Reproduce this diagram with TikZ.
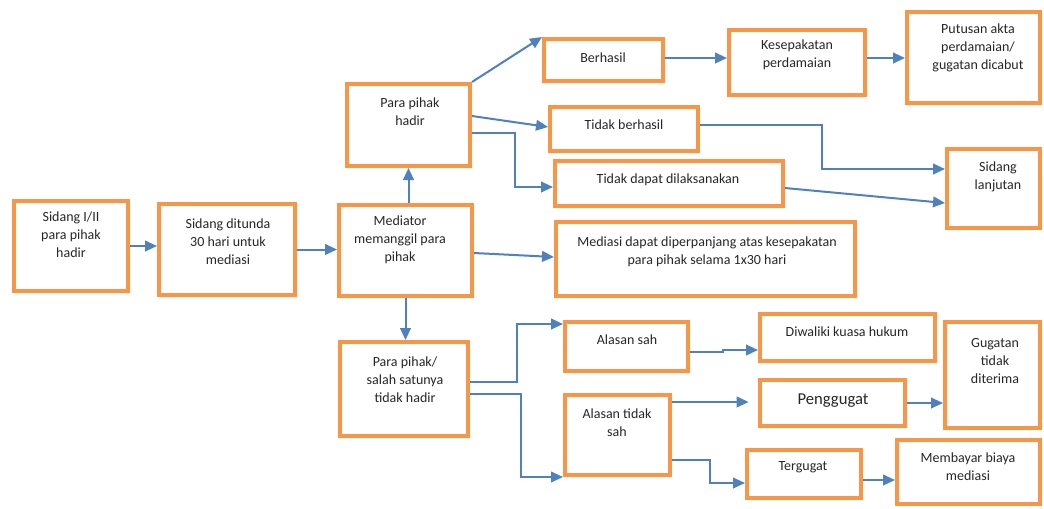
\documentclass[tikz,border=0pt]{standalone}
\usepackage{fontspec}
\setmainfont{Carlito}
\usetikzlibrary{arrows.meta,positioning,calc,fit}
\definecolor{boxorange}{HTML}{F79646}
\definecolor{arrowblue}{HTML}{4F81BD}

\begin{document}
\begin{tikzpicture}[x=0.75pt, y=-0.75pt,
    box/.style={draw=boxorange, line width=3pt, inner sep=0pt},
    lbl/.style={align=center, inner sep=0pt, text=black!85,
        font=\fontsize{10.5}{13.5}\selectfont},
    flow/.style={draw=arrowblue, line width=1.5pt,
        -{Triangle[length=9pt,width=8pt]}}]
    \useasboundingbox (0,0) rectangle (1044,508);

    % left column
    \node[box, fit={(14,201) (128,291)}] (sidang) {};
    \node[lbl] (sidang-t) at (71,235) {Sidang I/II\\para pihak\\hadir};
    \node[box, fit={(159,204) (295,295)}] (tunda) {};
    \node[lbl] (tunda-t) at (228,242) {Sidang ditunda\\30 hari untuk\\mediasi};
    \node[box, fit={(339,205) (472,296)}] (mediator) {};
    \node[lbl] (mediator-t) at (400,240) {Mediator\\memanggil para\\pihak};

    % parties present
    \node[box, fit={(347,84) (470,166)}] (hadir) {};
    \node[lbl] (hadir-t) at (410,112) {Para pihak\\hadir};
    \node[box, fit={(544,39) (663,81)}] (berhasil) {};
    \node[lbl] (berhasil-t) at (603,58) {Berhasil};
    \node[box, fit={(550,107) (698,151)}] (tdkberhasil) {};
    \node[lbl] (tdkberhasil-t) at (624,125) {Tidak berhasil};
    \node[box, fit={(555,161) (783,206)}] (tdkdapat) {};
    \node[lbl] (tdkdapat-t) at (668,180) {Tidak dapat dilaksanakan};
    \node[box, fit={(729,30) (865,95)}] (sepakat) {};
    \node[lbl] (sepakat-t) at (797,55) {Kesepakatan\\perdamaian};
    \node[box, fit={(907,12) (1040,103)}] (putusan) {};
    \node[lbl] (putusan-t) at (978,48) {Putusan akta\\perdamaian/\\gugatan dicabut};
    \node[box, fit={(947,149) (1040,228)}] (lanjutan) {};
    \node[lbl] (lanjutan-t) at (998,177) {Sidang\\lanjutan};

    % extension
    \node[box, fit={(556,222) (855,296)}] (perpanjang) {};
    \node[lbl] (perpanjang-t) at (707,251.5) {Mediasi dapat diperpanjang atas kesepakatan\\para pihak selama 1x30 hari};

    % parties absent
    \node[box, fit={(340,342) (468,436)}] (tdkhadir) {};
    \node[lbl] (tdkhadir-t) at (405,380) {Para pihak/\\salah satunya\\tidak hadir};
    \node[box, fit={(565,322) (688,371)}] (sah) {};
    \node[lbl] (sah-t) at (627,340) {Alasan sah};
    \node[box, fit={(565,395) (670,475)}] (tdksah) {};
    \node[lbl] (tdksah-t) at (617,423) {Alasan tidak\\sah};
    \node[box, fit={(760,314) (935,361)}] (kuasa) {};
    \node[lbl] (kuasa-t) at (847,332) {Diwaliki kuasa hukum};
    \node[box, fit={(760,380) (905,426)}] (penggugat) {};
    \node[lbl, font=\fontsize{12.5}{15}\selectfont] (penggugat-t) at (833,401) {Penggugat};
    \node[box, fit={(945,322) (1040,428)}] (tdkterima) {};
    \node[lbl] (tdkterima-t) at (995,361) {Gugatan\\tidak\\diterima};
    \node[box, fit={(747,450) (861,498)}] (tergugat) {};
    \node[lbl] (tergugat-t) at (803,467) {Tergugat};
    \node[box, fit={(897,440) (1040,504)}] (biaya) {};
    \node[lbl] (biaya-t) at (968,467) {Membayar biaya\\mediasi};

    % Arrows
    \draw[flow] (sidang.east) -- (sidang.east -| tunda.west);
    \draw[flow] (tunda.east) -- (tunda.east -| mediator.west);
    \draw[flow] (mediator.north -| hadir) -- (hadir.south);
    \draw[flow] (mediator.south) -- (mediator.south |- tdkhadir.north);
    \draw[flow] (mediator.east |- 0,253) -- (perpanjang.west |- 0,257);

    % from para pihak hadir
    \draw[flow] (hadir.north east) -- (berhasil.north west);
    \draw[flow] (hadir.east |- 0,116) -- (tdkberhasil.west |- 0,127);
    \draw[flow] (hadir.east |- 0,133) -- ++(43,0) |- (tdkdapat.west |- 0,187);
    \draw[flow] (berhasil.east |- 0,58) -- (sepakat.west |- 0,58);
    \draw[flow] (sepakat.east |- 0,58) -- (putusan.west |- 0,58);
    \draw[flow] (tdkberhasil.east |- 0,125) -- ++(122,0) |- (lanjutan.west |- 0,169);
    \draw[flow] (tdkdapat.east |- 0,188) -- (lanjutan.west |- 0,203);

    % from para pihak tidak hadir
    \draw[flow] (tdkhadir.east |- 0,382) -- ++(47,0) |- (sah.west |- 0,324);
    \draw[flow] (tdkhadir.east |- 0,394) -- ++(51,0) |- (tdksah.south west);
    \draw[flow] (sah.east |- 0,352) -- ++(33,0) -- ++(0,-2) -- (kuasa.west |- 0,350);
    \draw[flow, shorten >=7pt] (tdksah.east |- 0,402) -- (penggugat.west |- 0,402);
    \draw[flow] (penggugat.east) -- (penggugat.east -| tdkterima.west);
    \draw[flow] (tdksah.east |- 0,460) -- ++(38,0) |- (tergugat.west |- 0,483);
    \draw[flow] (tergugat.east |- 0,480) -- (biaya.west |- 0,480);
\end{tikzpicture}
\end{document}
